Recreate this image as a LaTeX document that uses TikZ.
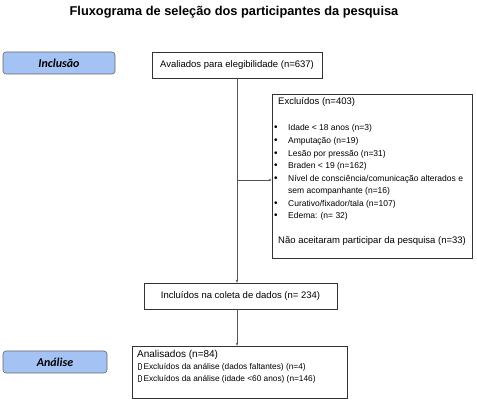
\documentclass[tikz,border=0pt]{standalone}
\usepackage{fontspec}
\setmainfont{Liberation Sans}
\newfontfamily\etapafont{Carlito}
\usetikzlibrary{arrows.meta}
\definecolor{etapaazul}{HTML}{A4C2F4}
\definecolor{linha}{HTML}{555555}
\newcommand\tofu{{\fboxsep=0pt\fboxrule=0.25pt\color{black!70}\fbox{\rule{0pt}{5.5pt}\hspace{2.5pt}}}}
\tikzset{
  caixa/.style={draw=black!80,line width=0.6pt,inner sep=0pt},
  etapa/.style={draw=black!60,line width=0.6pt,fill=etapaazul,rounded corners=3pt,
    font=\etapafont\fontsize{12}{14}\selectfont\bfseries\itshape,
    minimum width=112pt,minimum height=22pt},
  texto/.style={anchor=west,inner sep=0pt},
  item/.style={texto,font=\fontsize{8.5}{10}\selectfont},
  seta/.style={draw=linha,line width=0.5pt,-{Stealth[length=3pt,width=2.5pt]}}
}
\begin{document}
\begin{tikzpicture}[x=1pt,y=-1pt,font=\fontsize{9.5}{11}\selectfont]
  \useasboundingbox (0,0) rectangle (477,403);
  % titulo
  \node[font=\fontsize{12.8}{15}\selectfont\bfseries] (titulo) at (234,12)
    {Fluxograma de seleção dos participantes da pesquisa};
  % etapas
  \node[etapa] (inclusao) at (59,63) {Inclusão};
  \node[etapa,minimum width=104pt] (analise) at (55,362) {Análise};
  % caixas
  \node[caixa,minimum width=170pt,minimum height=26pt] (aval) at (237,65)
    {Avaliados para elegibilidade (n=637)};
  \node[caixa,minimum width=193pt,minimum height=26pt] (incl) at (240.5,296)
    {Incluídos na coleta de dados (n= 234)};
  \node[caixa,minimum width=200pt,minimum height=164pt] (excl) at (372,176) {};
  \node[caixa,minimum width=215pt,minimum height=52pt] (anal) at (239.5,372) {};
  % texto dos excluidos
  \node[texto] (excltit) at (278,102) {Excluídos (n=403)};
  \foreach \y/\txt [count=\i] in {128/{Idade < 18 anos (n=3)},
      141/{Amputação (n=19)},
      154/{Lesão por pressão (n=31)},
      166/{Braden < 19 (n=162)},
      179/{Nível de consciência/comunicação alterados e},
      204/{Curativo/fixador/tala (n=107)},
      216/{Edema: (n= 32)}} {
    \node[item,font=\fontsize{10}{10}\selectfont] (bol\i) at (274,\y) {•};
    \node[item] (item\i) at (288,\y) {\txt};
  }
  \node[item] (item5b) at (288,191) {sem acompanhante (n=16)};
  \node[texto] (recusa) at (278,241) {Não aceitaram participar da pesquisa (n=33)};
  % texto dos analisados
  \node[texto,font=\fontsize{10}{12}\selectfont] (analtit) at (137,355) {Analisados (n=84)};
  \node[texto,font=\fontsize{8.3}{10}\selectfont] (anal1) at (138,367)
    {\tofu\ Excluídos da análise (dados faltantes) (n=4)};
  \node[texto,font=\fontsize{8.3}{10}\selectfont] (anal2) at (138,379)
    {\tofu\ Excluídos da análise (idade <60 anos) (n=146)};
  % conectores
  \coordinate (ramo) at (237,180);
  \draw[seta] (aval.south) -- (aval.south |- incl.north);
  \draw[seta] (ramo) -- (ramo -| excl.west);
  \draw[seta] (aval.south |- incl.south) -- (aval.south |- anal.north);
\end{tikzpicture}
\end{document}
